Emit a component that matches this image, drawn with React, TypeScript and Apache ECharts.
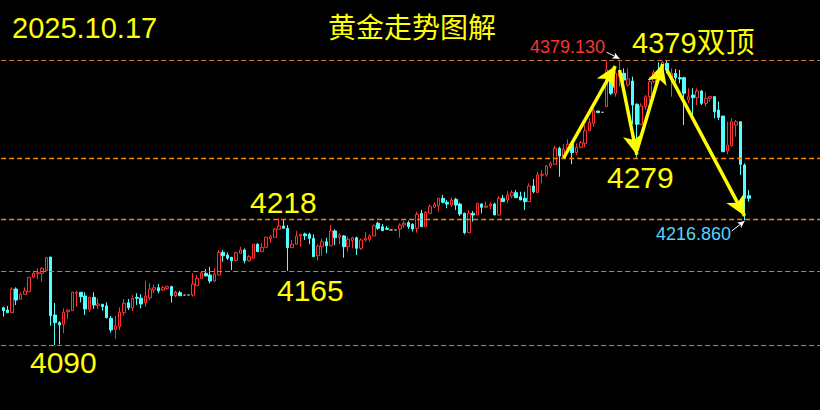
import React, { useEffect, useRef } from "react";
import * as echarts from "echarts";

// [open, close, low, high] per bar
const ohlc: [number, number, number, number][] = [
  [4127.8, 4124.8, 4118.7, 4128.9], [4125.5, 4122.8, 4122.8, 4129.6], [4122.8, 4146.8, 4122.8, 4148.5],
  [4146.8, 4135.6, 4130.6, 4148.5], [4136.4, 4141.4, 4136.4, 4143.5], [4141.4, 4144.8, 4141.4, 4148.5],
  [4144.1, 4158.7, 4144.1, 4158.7], [4158.7, 4162.7, 4158.7, 4165.4], [4162.3, 4163.3, 4156.7, 4167.8],
  [4162.7, 4167.8, 4154.2, 4168.8], [4165.4, 4178.6, 4165.4, 4179.3], [4179.3, 4119.7, 4109.6, 4179.3],
  [4120.4, 4112.6, 4090.0, 4132.6], [4112.6, 4110.3, 4090.5, 4114.3], [4111.0, 4123.2, 4101.9, 4127.2],
  [4123.8, 4125.5, 4116.4, 4126.2], [4124.8, 4143.5, 4124.8, 4143.5], [4142.5, 4143.5, 4128.9, 4144.8],
  [4143.5, 4139.0, 4133.3, 4143.5], [4139.7, 4126.5, 4120.4, 4143.5], [4126.2, 4138.4, 4123.8, 4139.0],
  [4138.4, 4130.6, 4126.5, 4143.5], [4129.9, 4131.6, 4126.5, 4137.4], [4131.3, 4128.9, 4124.8, 4131.3],
  [4129.6, 4117.7, 4117.1, 4133.3], [4117.1, 4105.2, 4102.5, 4119.4], [4105.9, 4109.3, 4096.1, 4119.4],
  [4108.6, 4123.2, 4105.2, 4128.2], [4122.8, 4132.3, 4119.7, 4136.7], [4132.9, 4127.8, 4125.5, 4136.7],
  [4127.8, 4137.4, 4124.5, 4140.7], [4138.4, 4137.4, 4130.6, 4142.5], [4137.4, 4131.6, 4127.2, 4141.7],
  [4132.9, 4139.7, 4128.9, 4155.2], [4138.0, 4146.8, 4135.6, 4152.6], [4145.8, 4148.1, 4142.5, 4151.6],
  [4148.1, 4144.8, 4142.5, 4151.9], [4145.8, 4148.1, 4144.8, 4149.9], [4147.5, 4149.2, 4145.8, 4150.2],
  [4149.2, 4140.0, 4132.9, 4150.2], [4140.0, 4143.5, 4138.4, 4145.1], [4143.1, 4140.0, 4140.0, 4144.8],
  [4140.7, 4140.7, 4140.7, 4140.7], [4140.7, 4140.7, 4140.7, 4140.7], [4140.7, 4151.9, 4139.0, 4162.7],
  [4150.2, 4157.7, 4150.2, 4161.0], [4157.7, 4163.3, 4157.0, 4164.4], [4162.7, 4160.0, 4160.0, 4167.1],
  [4161.0, 4154.9, 4152.6, 4169.4], [4154.9, 4162.0, 4154.2, 4167.8], [4161.0, 4184.0, 4161.0, 4186.4],
  [4184.0, 4180.6, 4174.5, 4186.4], [4181.3, 4178.0, 4176.2, 4184.0], [4179.0, 4175.5, 4166.1, 4179.0],
  [4175.5, 4183.6, 4175.5, 4184.6], [4183.0, 4186.4, 4183.0, 4189.7], [4186.4, 4175.5, 4172.9, 4188.1],
  [4175.5, 4179.6, 4174.5, 4181.3], [4178.0, 4192.2, 4178.0, 4192.5], [4192.2, 4184.7, 4184.7, 4193.2],
  [4184.7, 4189.1, 4184.7, 4193.8], [4189.1, 4199.3, 4189.1, 4199.9], [4198.2, 4199.9, 4193.8, 4201.6],
  [4199.3, 4207.7, 4199.3, 4208.4], [4207.4, 4210.7, 4207.4, 4218.5], [4210.7, 4208.4, 4208.4, 4216.8],
  [4208.4, 4188.7, 4165.1, 4211.7], [4188.7, 4192.2, 4188.7, 4196.5], [4192.2, 4200.6, 4192.2, 4205.7],
  [4200.6, 4202.3, 4189.7, 4202.3], [4202.6, 4200.9, 4196.5, 4203.9], [4202.3, 4198.2, 4192.2, 4203.9],
  [4198.2, 4179.6, 4179.6, 4202.3], [4180.6, 4190.4, 4175.5, 4192.2], [4189.7, 4194.8, 4180.6, 4198.2],
  [4194.8, 4190.7, 4183.0, 4198.8], [4190.7, 4205.7, 4190.7, 4211.7], [4205.7, 4198.8, 4191.4, 4207.4],
  [4199.3, 4201.6, 4192.2, 4203.3], [4200.6, 4189.7, 4178.6, 4201.6], [4189.7, 4197.2, 4184.7, 4199.9],
  [4195.8, 4198.8, 4188.1, 4199.9], [4198.8, 4188.1, 4181.3, 4199.9], [4188.1, 4196.5, 4186.4, 4198.2],
  [4196.5, 4198.2, 4194.8, 4204.3], [4197.2, 4200.6, 4194.8, 4202.3], [4200.6, 4211.0, 4200.6, 4212.4],
  [4213.5, 4208.4, 4206.7, 4215.1], [4210.0, 4206.0, 4206.0, 4212.8], [4208.4, 4207.4, 4206.7, 4210.7],
  [4206.7, 4206.7, 4206.7, 4206.7], [4206.7, 4206.7, 4206.7, 4206.7], [4207.7, 4211.7, 4198.8, 4213.5],
  [4211.7, 4213.5, 4209.0, 4216.1], [4214.1, 4210.0, 4207.7, 4216.1], [4212.4, 4207.7, 4205.0, 4213.5],
  [4208.4, 4222.6, 4203.9, 4225.2], [4223.6, 4210.0, 4210.0, 4227.0], [4210.0, 4224.6, 4210.0, 4225.9],
  [4223.6, 4230.3, 4223.6, 4232.7], [4229.7, 4232.7, 4228.7, 4234.8], [4231.0, 4238.8, 4225.2, 4239.4],
  [4238.8, 4234.8, 4233.8, 4242.2], [4234.8, 4233.0, 4228.7, 4237.1], [4232.0, 4237.1, 4230.3, 4239.4],
  [4237.8, 4232.0, 4227.0, 4239.4], [4233.0, 4222.9, 4220.9, 4234.4], [4223.6, 4203.9, 4202.3, 4224.2],
  [4203.9, 4223.6, 4203.9, 4227.0], [4223.6, 4221.9, 4215.1, 4225.9], [4221.9, 4233.8, 4221.9, 4234.1],
  [4233.0, 4229.7, 4223.6, 4233.8], [4229.7, 4231.0, 4228.7, 4235.4], [4231.0, 4232.7, 4227.7, 4234.8],
  [4233.0, 4221.9, 4221.9, 4234.4], [4221.9, 4238.8, 4221.9, 4241.2], [4238.8, 4235.4, 4235.4, 4242.2],
  [4237.1, 4242.2, 4233.8, 4246.2], [4241.2, 4244.5, 4238.8, 4247.2], [4244.5, 4239.4, 4239.4, 4247.2],
  [4240.5, 4237.1, 4237.1, 4245.5], [4238.8, 4235.4, 4227.0, 4245.5], [4235.4, 4251.3, 4235.4, 4254.0],
  [4251.3, 4245.5, 4243.9, 4258.4], [4244.5, 4262.5, 4244.5, 4265.8], [4262.2, 4263.2, 4254.0, 4267.5],
  [4262.5, 4271.6, 4260.7, 4272.6], [4271.6, 4274.3, 4269.3, 4276.0], [4273.3, 4289.6, 4273.3, 4292.2],
  [4289.6, 4281.7, 4260.7, 4291.2], [4281.7, 4288.6, 4281.7, 4293.6], [4289.6, 4293.6, 4286.1, 4298.7],
  [4294.6, 4285.1, 4273.3, 4295.6], [4285.1, 4290.6, 4282.8, 4294.6], [4290.6, 4295.2, 4289.6, 4296.9],
  [4294.6, 4307.4, 4290.6, 4313.2], [4307.4, 4315.9, 4307.4, 4320.0], [4314.9, 4327.7, 4311.5, 4330.1],
  [4327.4, 4325.7, 4325.7, 4327.4], [4326.1, 4326.1, 4326.1, 4326.1], [4331.8, 4369.0, 4331.8, 4378.5],
  [4363.2, 4345.4, 4343.6, 4369.0], [4345.4, 4365.6, 4341.9, 4370.7], [4362.2, 4365.6, 4352.1, 4379.13],
  [4365.6, 4358.8, 4357.1, 4370.7], [4353.8, 4359.9, 4352.1, 4370.7], [4357.8, 4333.5, 4313.9, 4362.2],
  [4334.2, 4313.9, 4280.0, 4335.2], [4313.9, 4332.5, 4313.2, 4335.2], [4331.8, 4341.9, 4328.4, 4343.6],
  [4341.9, 4357.1, 4336.8, 4362.2], [4357.1, 4366.6, 4355.5, 4369.0], [4367.2, 4358.8, 4358.8, 4376.8],
  [4359.9, 4376.8, 4358.8, 4378.1], [4375.8, 4369.0, 4365.6, 4378.9], [4359.9, 4365.6, 4341.9, 4370.7],
  [4365.6, 4361.2, 4357.1, 4370.0], [4361.2, 4359.9, 4355.5, 4369.0], [4361.2, 4345.4, 4313.2, 4362.2],
  [4338.6, 4341.9, 4335.2, 4350.4], [4343.6, 4340.9, 4323.3, 4350.4], [4340.9, 4347.7, 4333.5, 4350.4],
  [4347.7, 4335.2, 4333.5, 4348.7], [4335.2, 4340.3, 4331.8, 4346.4], [4340.3, 4341.9, 4336.8, 4341.9],
  [4341.9, 4326.7, 4320.0, 4341.9], [4328.4, 4321.0, 4318.3, 4336.8], [4322.3, 4286.1, 4286.1, 4322.3],
  [4286.8, 4292.9, 4283.5, 4316.5], [4292.2, 4316.5, 4291.2, 4320.0], [4313.2, 4316.5, 4301.3, 4318.3],
  [4316.5, 4273.3, 4262.5, 4316.5], [4272.6, 4238.8, 4216.86, 4274.3], [4241.5, 4238.8, 4235.4, 4247.2],
];

// empty slots to the right of the last bar
const emptySlots = 16;
const barNames = [...ohlc.map((_, i) => `K${i + 1}`), ...Array.from({ length: emptySlots }, (_, i) => `E${i + 1}`)];

const levels = [4379.13, 4279, 4218, 4165, 4090];
const strongLevels = [4279, 4218];
// trend arrows: [fromIndex, fromValue, toIndex, toValue]
const trendArrows: [number, number, number, number][] = [
  [130, 4279.7, 142, 4373],
  [143, 4369, 147, 4283],
  [147, 4287, 153, 4375],
  [154, 4369, 172, 4221],
];
const pointerArrows: [number, number, number, number][] = [
  [140, 4387, 143, 4380.5],
  [169, 4205.6, 172, 4215.8],
];

const dateText = "2025.10.17";
const titleText = "黄金走势图解";
const topText = "4379双顶";
const highText = "4379.130";
const lowText = "4216.860";
const levelTexts = ["4279", "4218", "4165", "4090"];

const FONT = '"Liberation Sans", Arial, "Noto Sans CJK SC", sans-serif';
const YELLOW = "#ffff00";

export default function App() {
  const ref = useRef<HTMLDivElement>(null);
  useEffect(() => {
    if (!ref.current) return;
    const chart = echarts.init(ref.current, undefined, { renderer: "svg" });
    const txt = (text: string, x: number, y: number, size: number, fill = YELLOW) => ({
      type: "text",
      x,
      y,
      silent: true,
      style: { text, fill, font: `${size}px ${FONT}`, align: "left", verticalAlign: "middle" },
    });
    const levelLine = (v: number) => {
      const strong = strongLevels.includes(v);
      return {
        yAxis: v,
        symbol: "none",
        lineStyle: strong
          ? { color: "#ff8000", width: 1.4, type: [5, 3] }
          : { color: "#d9782a", width: 1, type: [5, 3] },
      };
    };
    const arrowLine = (a: [number, number, number, number], color: string, width: number, size: number[]) => {
      const ls = { color, width, type: "solid" };
      return [
        { coord: [a[0], a[1]], symbol: "none", lineStyle: ls },
        { coord: [a[2], a[3]], symbol: "arrow", symbolSize: size, lineStyle: ls },
      ];
    };
    chart.setOption({
      animation: false,
      backgroundColor: "#000000",
      grid: { left: 1.14, top: 0, width: 820.4, height: 410, containLabel: false },
      xAxis: { type: "category", data: barNames, show: false, boundaryGap: true },
      yAxis: { type: "value", min: 4024.06, max: 4440, show: false, splitLine: { show: false } },
      series: [
        {
          type: "candlestick",
          data: ohlc,
          barWidth: 3,
          itemStyle: {
            color: "#000000",
            color0: "#54ffff",
            borderColor: "#ff3232",
            borderColor0: "#54ffff",
            borderColorDoji: "#c0c0c0",
            borderWidth: 1,
          },
          markLine: {
            silent: true,
            animation: false,
            symbol: ["none", "none"],
            label: { show: false },
            data: [
              ...levels.map(levelLine),
              ...trendArrows.map((a) => arrowLine(a, YELLOW, 3.5, [15, 20])),
              ...pointerArrows.map((a) => arrowLine(a, "#ffffff", 1, [5, 7])),
            ],
          },
        },
      ],
      graphic: [
        txt(dateText, 12, 28, 29),
        txt(titleText, 328, 28, 28),
        txt(topText, 632, 43, 29),
        txt(highText, 530, 47, 18, "#ff3232"),
        txt(lowText, 656, 234, 18, "#55d4ff"),
        txt(levelTexts[0], 607, 177, 30),
        txt(levelTexts[1], 250, 202, 30),
        txt(levelTexts[2], 277, 290, 30),
        txt(levelTexts[3], 30, 362, 30),
      ],
    });
    return () => chart.dispose();
  }, []);
  return (
    <div
      ref={ref}
      style={{ position: "absolute", left: 0, top: 0, width: 820, height: 410, background: "#000" }}
    />
  );
}
